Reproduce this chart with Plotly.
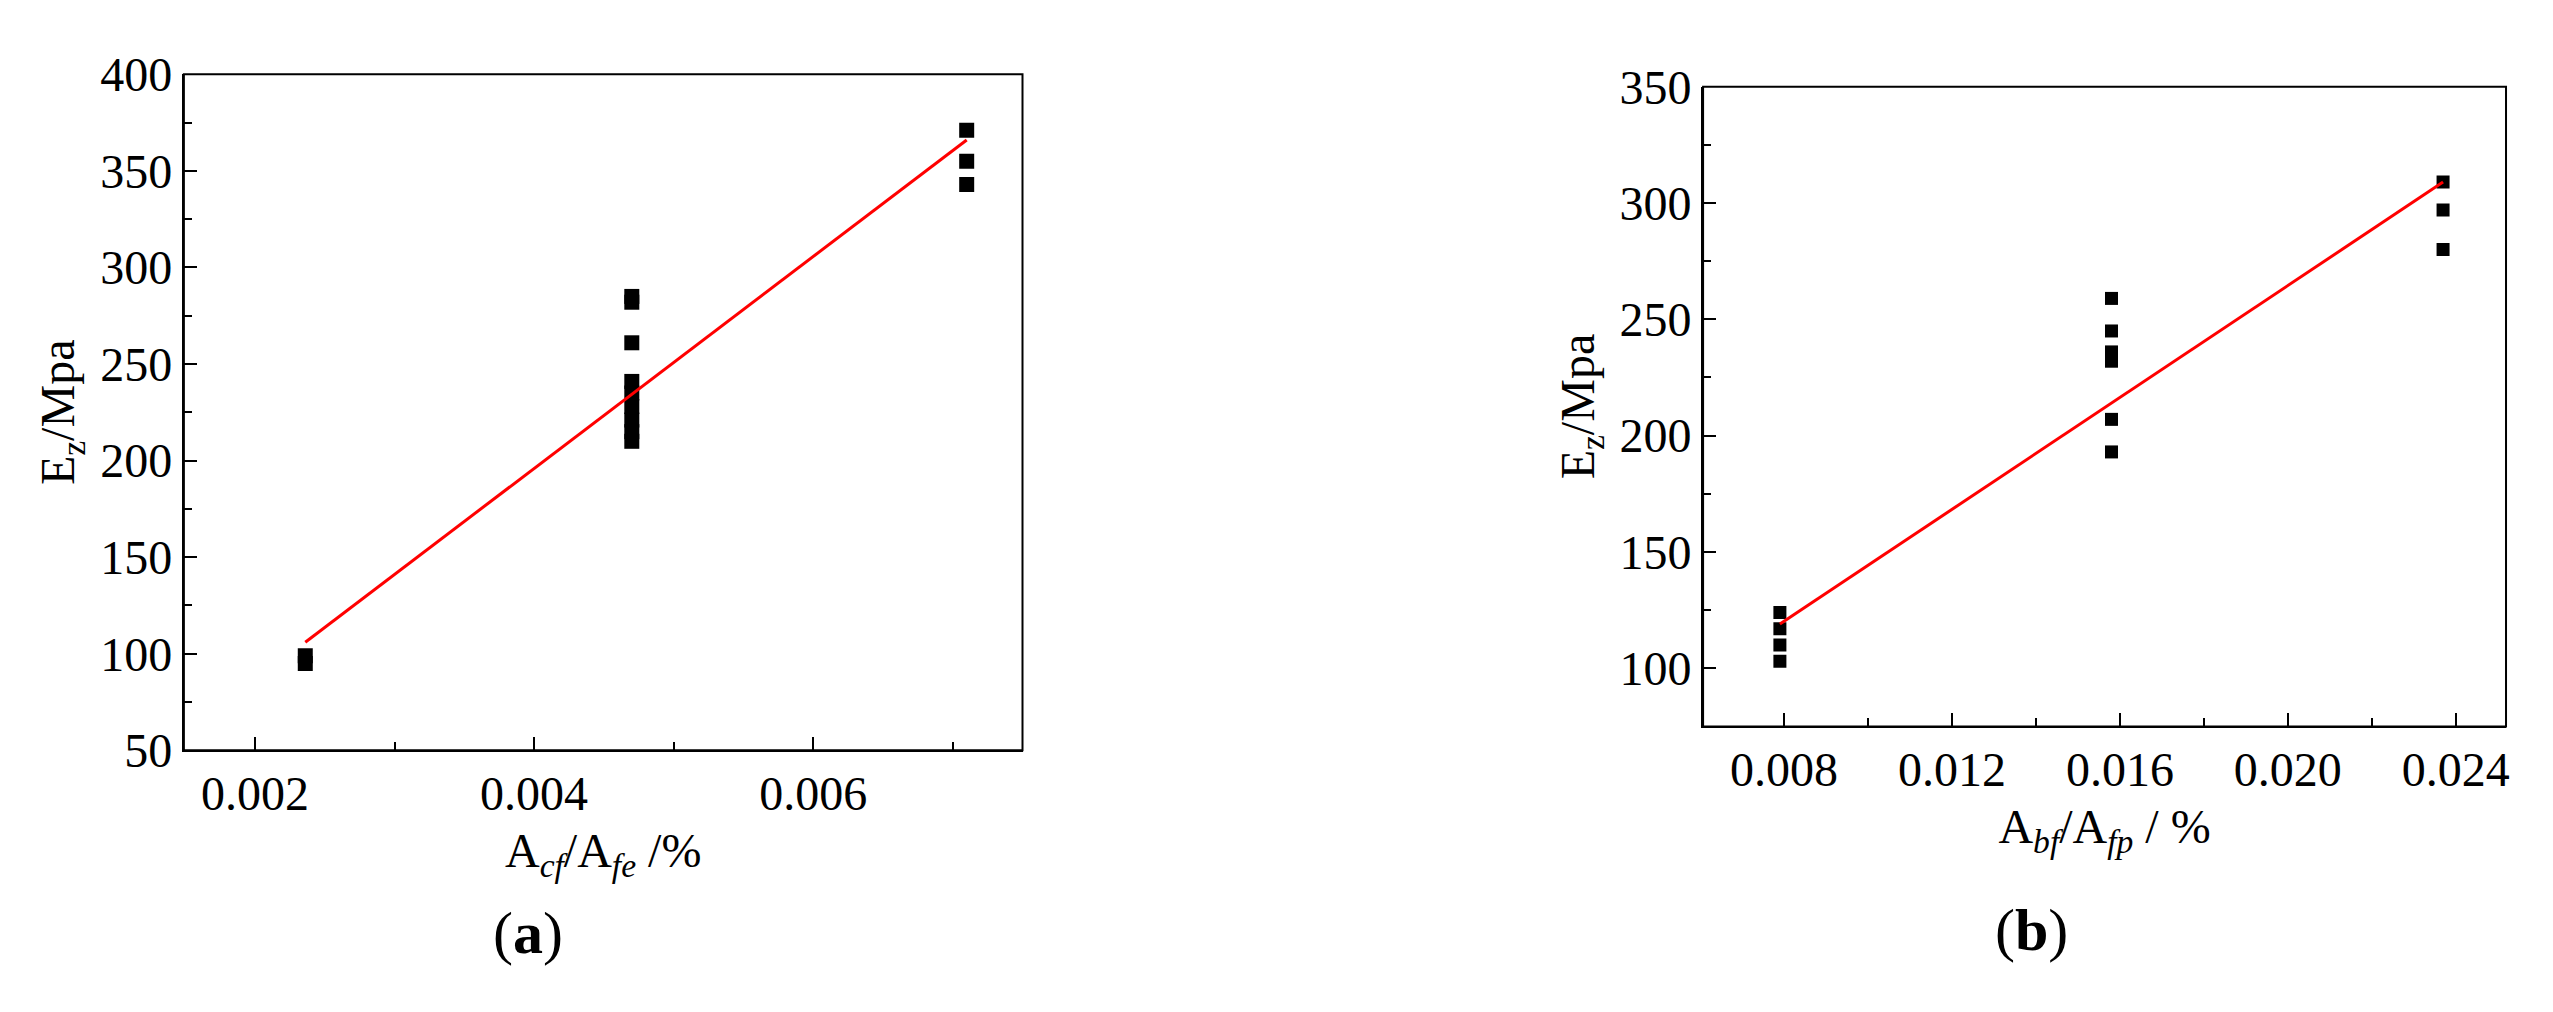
import plotly.graph_objects as go

# panel (a)
xa = [0.00236, 0.00236, 0.0047, 0.0047, 0.0047, 0.0047, 0.0047, 0.0047, 0.0047, 0.0047, 0.0047, 0.0071, 0.0071, 0.0071]
ya = [95, 99, 285, 282, 261, 241, 235, 228, 221, 215, 210, 371, 355, 343]
fit_xa = [0.00236, 0.0071]
fit_ya = [106, 366]

# panel (b)
xb = [0.0079, 0.0079, 0.0079, 0.0079, 0.0158, 0.0158, 0.0158, 0.0158, 0.0158, 0.0158, 0.0237, 0.0237, 0.0237]
yb = [103, 110, 117, 124, 259, 245, 236, 232, 207, 193, 309, 297, 280]
fit_xb = [0.0079, 0.0237]
fit_yb = [119, 309]

font = "Liberation Serif"
fig = go.Figure()
fig.add_trace(go.Scatter(x=xa, y=ya, mode="markers", marker=dict(symbol="square", size=15, color="black"),
                         xaxis="x", yaxis="y", showlegend=False))
fig.add_trace(go.Scatter(x=fit_xa, y=fit_ya, mode="lines", line=dict(color="red", width=3),
                         xaxis="x", yaxis="y", showlegend=False))
fig.add_trace(go.Scatter(x=xb, y=yb, mode="markers", marker=dict(symbol="square", size=13, color="black"),
                         xaxis="x2", yaxis="y2", showlegend=False))
fig.add_trace(go.Scatter(x=fit_xb, y=fit_yb, mode="lines", line=dict(color="red", width=3),
                         xaxis="x2", yaxis="y2", showlegend=False))

ax = dict(showgrid=False, zeroline=False, showline=True, linecolor="black", linewidth=2,
          ticks="inside", ticklen=13, tickwidth=2, tickcolor="black",
          tickfont=dict(family=font, size=48, color="black"))
minor = dict(ticks="inside", ticklen=8, tickwidth=2, tickcolor="black")

fig.update_layout(
    width=2553, height=1012, paper_bgcolor="white", plot_bgcolor="white",
    margin=dict(l=0, r=0, t=0, b=0),
    font=dict(family=font, color="black"),
    xaxis=dict(ax, domain=[0.069, 0.398], range=[0.00149, 0.0075], tickvals=[0.002, 0.004, 0.006],
               ticktext=["0.002", "0.004", "0.006"], minor=dict(minor, dtick=0.001), anchor="y",
               title=dict(text="A<sub><i>cf</i></sub>/A<sub><i>fe</i></sub> /%", font=dict(size=48), standoff=14)),
    yaxis=dict(ax, domain=[0.253, 0.958], range=[50, 400], dtick=50, minor=dict(minor, dtick=25), anchor="x",
               title=dict(text="E<sub>z</sub>/Mpa", font=dict(size=48), standoff=10)),
    xaxis2=dict(ax, domain=[0.665, 0.98], range=[0.00607, 0.0252], tickvals=[0.008, 0.012, 0.016, 0.020, 0.024],
                ticktext=["0.008", "0.012", "0.016", "0.020", "0.024"], minor=dict(minor, dtick=0.002), anchor="y2",
                title=dict(text="A<sub><i>bf</i></sub>/A<sub><i>fp</i></sub> / %", font=dict(size=48), standoff=14)),
    yaxis2=dict(ax, domain=[0.278, 0.945], range=[75, 350], dtick=50, minor=dict(minor, dtick=25), anchor="x2",
                title=dict(text="E<sub>z</sub>/Mpa", font=dict(size=48), standoff=10)),
)
for xr, yr in (("x", "y"), ("x2", "y2")):
    fig.add_shape(type="rect", xref=xr + " domain", yref=yr + " domain", x0=0, x1=1, y0=0, y1=1,
                  line=dict(color="black", width=2))
fig.add_annotation(text="(<b>a</b>)", x=0.204, y=0.063, xref="paper", yref="paper", showarrow=False,
                   xanchor="center", yanchor="middle", font=dict(family=font, size=60, color="black"))
fig.add_annotation(text="(<b>b</b>)", x=0.794, y=0.066, xref="paper", yref="paper", showarrow=False,
                   xanchor="center", yanchor="middle", font=dict(family=font, size=60, color="black"))
fig.write_html("out.html")
